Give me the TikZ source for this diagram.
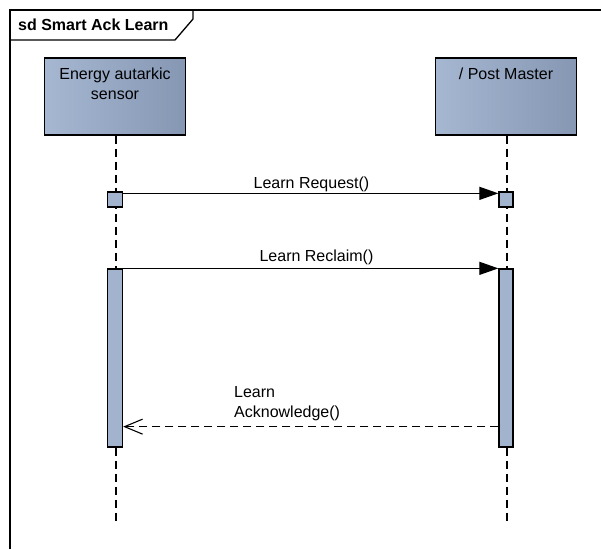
\documentclass[tikz,border=0pt]{standalone}
\usepackage{fontspec}
\setmainfont{Liberation Sans}
\usetikzlibrary{arrows.meta,calc}
\definecolor{boxlight}{RGB}{166,183,210}
\definecolor{boxdark}{RGB}{134,151,179}
\definecolor{actfill}{RGB}{162,179,206}
\begin{document}
\begin{tikzpicture}[x=1pt,y=-1pt,
  every node/.style={font=\fontsize{16}{20}\selectfont},
  lifebox/.style={draw=black,line width=1.4pt,left color=boxlight,middle color=boxlight,right color=boxdark,shading angle=90,minimum width=141pt,minimum height=77pt,inner sep=0pt},
  actbox/.style={draw=black,line width=1.3pt,fill=actfill,minimum width=15pt,inner sep=0pt},
  txt/.style={inner sep=0pt,align=center},
  lifeline/.style={line width=1.2pt,dash pattern=on 8pt off 5pt},
  sync/.style={line width=1.2pt,-{Triangle[length=19pt,width=13pt]}},
  reply/.style={line width=1.1pt,dash pattern=on 8pt off 5pt,-{Straight Barb[length=18pt,width=15pt,line width=1.1pt]}}
]
\useasboundingbox (0,0) rectangle (601,549);
% frame
\draw[line width=1.3pt] (10,549) -- (10,10) -- (601,10);
\draw[line width=1.3pt] (10,40) -- (175,40) -- (193,19) -- (193,10);
\node[anchor=base west,inner sep=0pt,font=\fontsize{16}{20}\selectfont\bfseries] (title) at (18,30) {sd Smart Ack Learn};
% lifeline heads
\node[lifebox] (s) at (115,96.5) {};
\node[lifebox] (p) at (506,96.5) {};
\node[txt,anchor=north] (stxt) at (115,68) {Energy autarkic\\sensor};
\node[txt,anchor=north] (ptxt) at (506,68) {/ Post Master};
% lifelines
\coordinate (send) at (116,522);
\coordinate (pend) at (507,522);
\draw[lifeline] (s.south -| send) -- (send);
\draw[lifeline] (p.south -| pend) -- (pend);
% activations
\node[actbox,minimum height=15pt] (a1) at (115,199.5) {};
\node[actbox,minimum height=15pt,minimum width=14pt] (b1) at (506,199.5) {};
\node[actbox,minimum height=178pt] (a2) at (115,358) {};
\node[actbox,minimum height=178pt,minimum width=14pt] (b2) at (506,358) {};
% messages
\draw[sync] ($(a1.north east)+(0,2)$) -- ($(b1.north west)+(0,2)$);
\node[anchor=base,inner sep=0pt] (m1) at (311.5,188) {Learn Request()};
\draw[sync] (a2.north east) -- (b2.north west);
\node[anchor=base,inner sep=0pt] (m2) at (316.5,261) {Learn Reclaim()};
\draw[reply] ($(b2.south west)+(0,-21)$) -- ($(a2.south east)+(0,-21)$);
\node[anchor=north west,inner sep=0pt,align=left] (m3) at (234,386) {Learn\\Acknowledge()};
\end{tikzpicture}
\end{document}
